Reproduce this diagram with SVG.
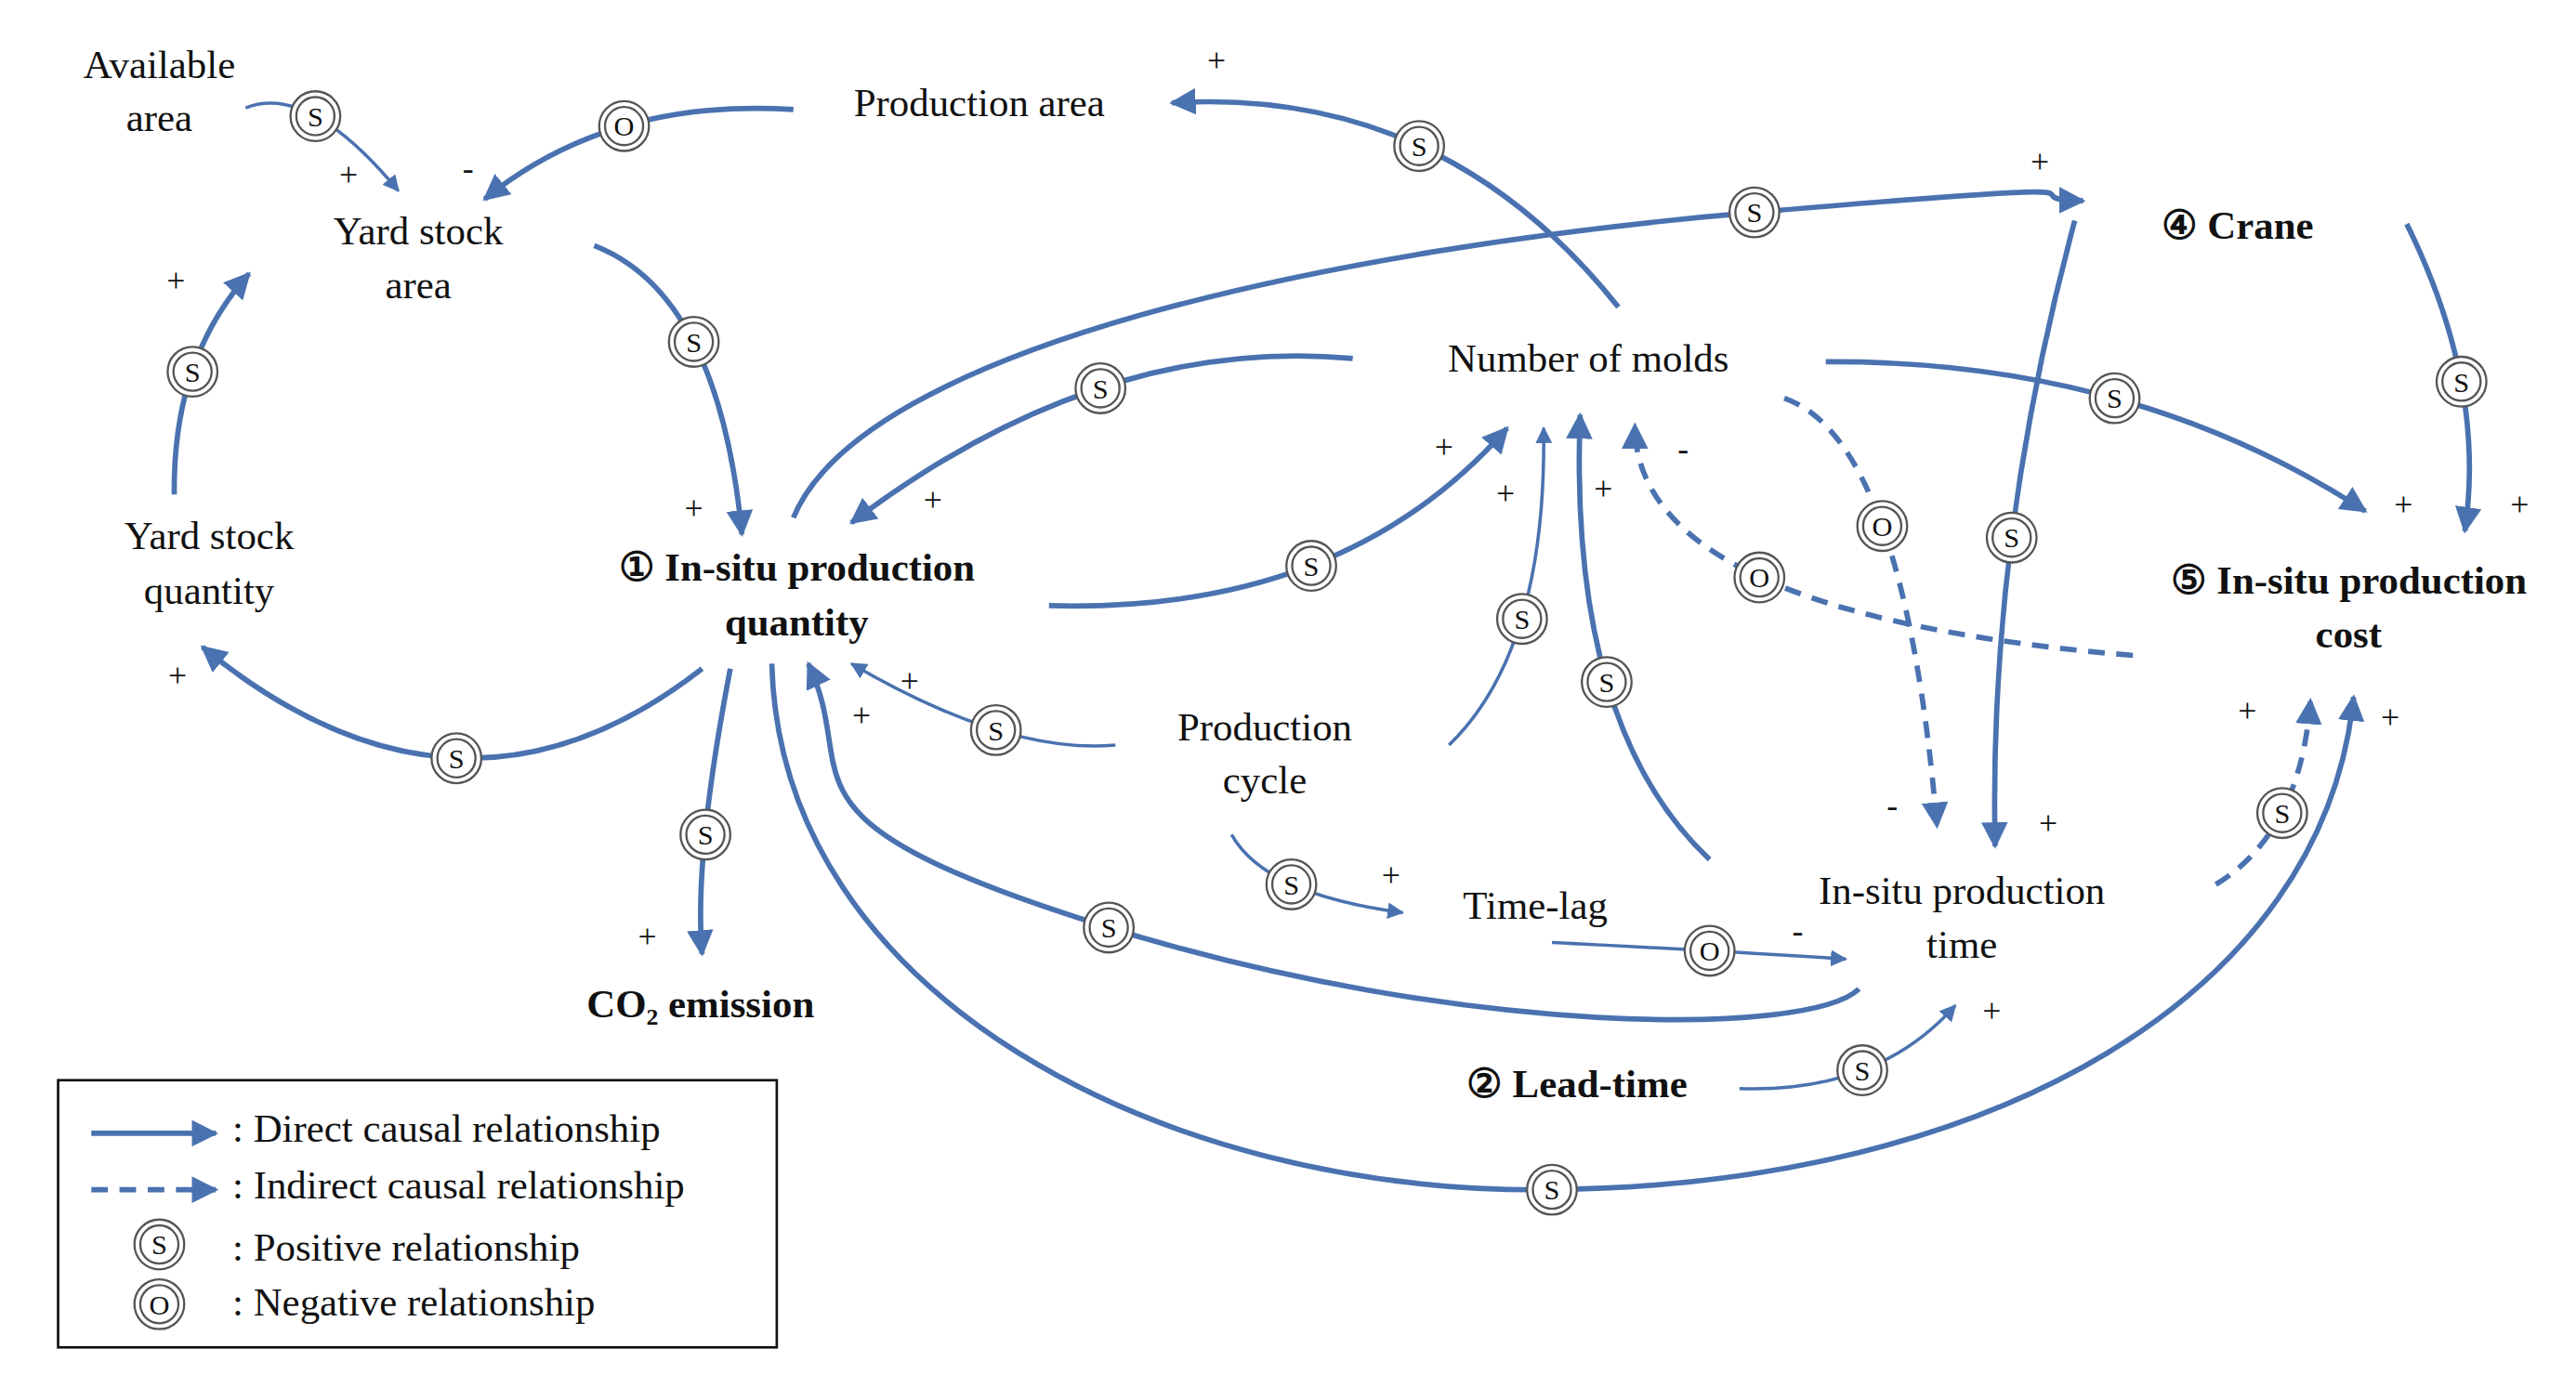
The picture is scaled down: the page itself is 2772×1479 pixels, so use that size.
<svg xmlns="http://www.w3.org/2000/svg" xmlns:xlink="http://www.w3.org/1999/xlink" width="2772" height="1479" viewBox="0 0 2772 1479">
<style>
.t{font-family:"Liberation Serif","DejaVu Serif",serif;font-size:24px;fill:#111;text-anchor:middle}
.b{font-weight:bold}
.p{font-family:"Liberation Serif",serif;font-size:20px;fill:#111;text-anchor:middle}
.c{fill:none;stroke:#4A72B0;stroke-width:3.2}
.n{stroke-width:2}
.d{stroke-dasharray:10 7}
.l{font-family:"Liberation Serif",serif;font-size:24px;fill:#111}
</style>
<defs>
<marker id="a" viewBox="0 0 10 10" refX="9" refY="5" markerWidth="5" markerHeight="5" orient="auto"><path d="M0,0L10,5L0,10z" fill="#4A72B0"/></marker>
<g id="S"><circle r="15" fill="#fff" stroke="#555" stroke-width="1.3"/><circle r="11.5" fill="none" stroke="#555" stroke-width="1.3"/><text y="6" class="p" style="font-size:17px">S</text></g>
<g id="O"><circle r="15" fill="#fff" stroke="#555" stroke-width="1.3"/><circle r="11.5" fill="none" stroke="#555" stroke-width="1.3"/><text y="6" class="p" style="font-size:17px">O</text></g>
</defs>
<rect width="2772" height="1479" fill="#fff"/>
<g transform="scale(1.7861)">
<g id="connectors" marker-end="url(#a)">
<path class="c n" d="M148,65 Q186,50 240,115"/>
<path class="c" d="M478,66 Q367,59 292,120"/>
<path class="c" d="M975,185 Q869,52 706,62"/>
<path class="c" d="M358,148 Q433,177 447,322"/>
<path class="c" d="M105,298 Q104,216 150,165"/>
<path class="c" d="M423,403 Q277,517 122,390"/>
<path class="c" d="M440,403 Q418,517 423,575"/>
<path class="c" d="M478,312 C520,210 800,150 1057,128 S1200,120 1255,121"/>
<path class="c" d="M815,216 Q662,202 513,315"/>
<path class="c" d="M632,365 Q810,370 908,258"/>
<path class="c" d="M1100,218 Q1285,217 1425,308"/>
<path class="c d" d="M1075,240 Q1147,265 1167,498"/>
<path class="c d" d="M1285,395 Q985,370 985,256"/>
<path class="c" d="M1250,133 Q1198,326 1202,510"/>
<path class="c" d="M1450,135 Q1498,232 1485,320"/>
<path class="c n" d="M672,449 Q607,455 513,400"/>
<path class="c n" d="M873,449 Q932,392 930,258"/>
<path class="c" d="M1030,518 Q945,438 952,250"/>
<path class="c" d="M1120,596 C1090,625 880,625 668,559 S520,470 487,400"/>
<path class="c n" d="M742,503 Q762,539 845,550"/>
<path class="c n" d="M935,568 Q1036,573 1112,578"/>
<path class="c n" d="M1048,656 Q1131,659 1178,606"/>
<path class="c" d="M465,400 C470,600 700,720 935,717 C1200,714 1400,600 1418,420"/>
<path class="c d" d="M1335,533 Q1386,502 1392,422"/>
</g>
<g id="polarity">
<use href="#S" x="190" y="70"/><use href="#O" x="376" y="76"/><use href="#S" x="855" y="88"/>
<use href="#S" x="418" y="206"/><use href="#S" x="116" y="224"/><use href="#S" x="275" y="457"/>
<use href="#S" x="425" y="503"/><use href="#S" x="1057" y="128"/><use href="#S" x="663" y="234"/>
<use href="#S" x="790" y="341"/><use href="#S" x="1274" y="240"/><use href="#O" x="1134" y="317"/>
<use href="#O" x="1060" y="348"/><use href="#S" x="1212" y="324"/><use href="#S" x="1483" y="230"/>
<use href="#S" x="600" y="440"/><use href="#S" x="917" y="373"/><use href="#S" x="968" y="411"/>
<use href="#S" x="668" y="559"/><use href="#S" x="778" y="533"/><use href="#O" x="1030" y="573"/>
<use href="#S" x="1122" y="645"/><use href="#S" x="935" y="717"/><use href="#S" x="1375" y="490"/>
</g>
<g id="signs" class="p">
<text x="210" y="112">+</text><text x="282" y="108">-</text><text x="733" y="43">+</text>
<text x="418" y="313">+</text><text x="106" y="176">+</text><text x="107" y="414">+</text>
<text x="390" y="571">+</text><text x="1229" y="104">+</text><text x="562" y="308">+</text>
<text x="870" y="276">+</text><text x="1448" y="311">+</text><text x="1140" y="492">-</text>
<text x="1014" y="277">-</text><text x="1234" y="503">+</text><text x="1518" y="311">+</text>
<text x="548" y="417">+</text><text x="907" y="304">+</text><text x="966" y="301">+</text>
<text x="519" y="438">+</text><text x="838" y="534">+</text><text x="1083" y="568">-</text>
<text x="1200" y="616">+</text><text x="1440" y="439">+</text><text x="1354" y="435">+</text>
</g>
<g id="available-area"><text class="t" x="96" y="47">Available</text><text class="t" x="96" y="79">area</text></g>
<g id="production-area"><text class="t" x="590" y="70">Production area</text></g>
<g id="yard-stock-area"><text class="t" x="252" y="147">Yard stock</text><text class="t" x="252" y="180">area</text></g>
<g id="yard-stock-quantity"><text class="t" x="126" y="331">Yard stock</text><text class="t" x="126" y="364">quantity</text></g>
<g id="in-situ-production-quantity"><text class="t b" x="480" y="350">① In-situ production</text><text class="t b" x="480" y="383">quantity</text></g>
<g id="co2-emission"><text class="t b" x="422" y="613">CO₂ emission</text></g>
<g id="number-of-molds"><text class="t" x="957" y="224">Number of molds</text></g>
<g id="crane"><text class="t b" x="1348" y="144">④ Crane</text></g>
<g id="in-situ-production-cost"><text class="t b" x="1415" y="358">⑤ In-situ production</text><text class="t b" x="1415" y="390">cost</text></g>
<g id="production-cycle"><text class="t" x="762" y="446">Production</text><text class="t" x="762" y="478">cycle</text></g>
<g id="time-lag"><text class="t" x="925" y="554">Time-lag</text></g>
<g id="in-situ-production-time"><text class="t" x="1182" y="545">In-situ production</text><text class="t" x="1182" y="577">time</text></g>
<g id="lead-time"><text class="t b" x="950" y="661">② Lead-time</text></g>
<g id="legend">
<rect x="35" y="651" width="433" height="161" fill="none" stroke="#111" stroke-width="1.5"/>
<path class="c" d="M55,683 L130,683" marker-end="url(#a)"/>
<path class="c d" d="M55,717 L130,717" marker-end="url(#a)"/>
<use href="#S" x="96" y="750"/><use href="#O" x="96" y="786"/>
<text class="l" x="140" y="688">: Direct causal relationship</text>
<text class="l" x="140" y="722">: Indirect causal relationship</text>
<text class="l" x="140" y="760">: Positive relationship</text>
<text class="l" x="140" y="793">: Negative relationship</text>
</g>
</g>
</svg>
